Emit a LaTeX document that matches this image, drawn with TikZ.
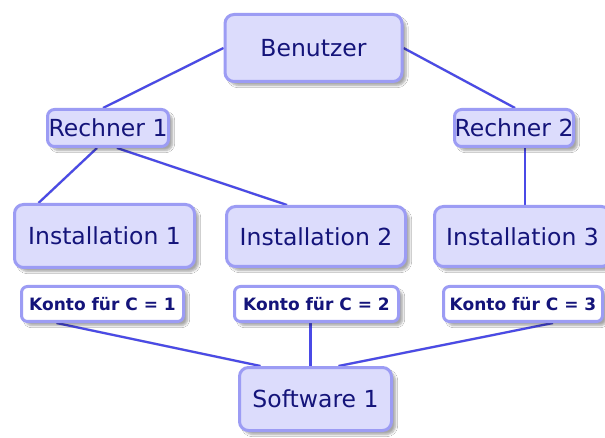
\documentclass[tikz,border=0pt]{standalone}
\usepackage{fontspec}
\setmainfont{DejaVu Sans}
\usetikzlibrary{shadows.blur,backgrounds,calc}
\definecolor{boxfill}{HTML}{DCDCFC}
\definecolor{boxdraw}{HTML}{9C9CF4}
\definecolor{txt}{HTML}{14147A}
\definecolor{conn}{HTML}{4A4AE6}
\tikzset{
  bigbox/.style={draw=boxdraw, fill=boxfill, line width=3pt, rounded corners=9pt,
    inner sep=0pt, text=txt, font=\fontsize{23.5}{27}\selectfont,
    blur shadow={shadow xshift=4pt, shadow yshift=-4pt, shadow opacity=35, shadow blur steps=6}},
  kontobox/.style={draw=boxdraw, fill=white, line width=3pt, rounded corners=6pt,
    inner sep=0pt, text=txt, font=\bfseries\fontsize{17}{20}\selectfont,
    blur shadow={shadow xshift=4pt, shadow yshift=-4pt, shadow opacity=35, shadow blur steps=6}},
  link/.style={draw=conn, line width=2.2pt},
  linkshadow/.style={draw=black!15, line width=2.5pt}
}
\newcommand\mylinks[1]{%
  \draw[#1] (ben.west) -- ([xshift=-5pt]r1.north);
  \draw[#1] (ben.east) -- ([xshift=1pt]r2.north);
  \draw[#1] (a1) -- ([xshift=-66pt]i1.north);
  \draw[#1] (a2) -- ([xshift=-29pt]i2.north);
  \draw[#1] (a3) -- (a3 |- i3.north);
  \draw[#1] (b1) -- ([xshift=-55pt]sw.north);
  \draw[#1] (b2) -- (b2 |- sw.north);
  \draw[#1] (b3) -- ([xshift=23pt]sw.north);
}
\begin{document}
\begin{tikzpicture}[x=1pt,y=-1pt]
\useasboundingbox (0,0) rectangle (605,438);
\clip (0,0) rectangle (605,438);
% nodes
\node[bigbox, minimum width=177pt, minimum height=67pt] (ben) at (313.5,48) {Benutzer};
\node[bigbox, minimum width=121pt, minimum height=37pt, rounded corners=7pt] (r1) at (108,128) {Rechner 1};
\node[bigbox, minimum width=119pt, minimum height=37pt, rounded corners=7pt] (r2) at (514,128) {Rechner 2};
\node[bigbox, minimum width=180pt, minimum height=63pt] (i1) at (104.5,236) {Installation 1};
\node[bigbox, minimum width=179pt, minimum height=60pt] (i2) at (316,236.5) {Installation 2};
\node[bigbox, minimum width=176pt, minimum height=60pt] (i3) at (522.5,236.5) {Installation 3};
\node[kontobox, minimum width=162pt, minimum height=35pt] (k1) at (102.5,304) {Konto für C = 1};
\node[kontobox, minimum width=164pt, minimum height=35pt] (k2) at (316.5,304) {Konto für C = 2};
\node[kontobox, minimum width=159pt, minimum height=35pt] (k3) at (523,304) {Konto für C = 3};
\node[bigbox, minimum width=152pt, minimum height=63pt] (sw) at (315.5,399) {Software 1};
% connectors
\coordinate (a1) at ([xshift=-11pt]r1.south);
\coordinate (a2) at ([xshift=9pt]r1.south);
\coordinate (a3) at ([xshift=11pt]r2.south);
\coordinate (b1) at ([xshift=-46pt]k1.south);
\coordinate (b2) at ([xshift=-6pt]k2.south);
\coordinate (b3) at ([xshift=30pt]k3.south);
\begin{scope}[on background layer]
  \fill[white] (0,0) rectangle (605,438);
  \begin{scope}[shift={(3pt,-3pt)}]
    \mylinks{linkshadow}
  \end{scope}
  \mylinks{link}
\end{scope}
\end{tikzpicture}
\end{document}
